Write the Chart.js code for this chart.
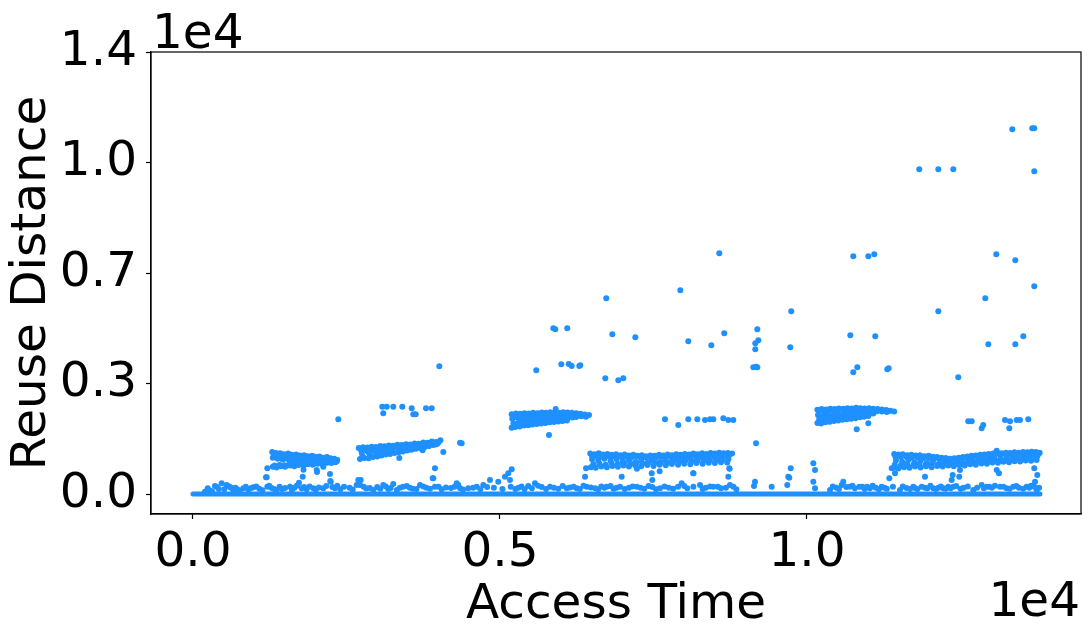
<!DOCTYPE html>
<html>
<head>
<meta charset="utf-8">
<script src="https://cdn.jsdelivr.net/npm/chart.js@4.4.1/dist/chart.umd.min.js"></script>
<style>
  html, body { margin: 0; padding: 0; background: #fff; }
</style>
</head>
<body>
<canvas id="c" width="1090" height="635"></canvas>
<script>
// ticks (values in raw units, labels as shown with the 1e4 offset)
const xTicks = [0, 5000, 10000];
const xTickLabels = ['0.0', '0.5', '1.0'];
const yTicks = [0, 3500, 7000, 10500, 14000];
const yTickLabels = ['0.0', '0.3', '0.7', '1.0', '1.4'];

// reuse distance 0 : the solid run along the bottom
const zeroRun = [[0, 0], [13795, 0]];

// small reuse distances just above zero
const lowNoise = [
  [195,73],[270,120],[358,253],[420,160],[467,339],[549,285],[620,200],[656,127],[720,150],[819,181],
  [900,140],[982,212],[1080,170],[1189,529],[1210,231],[1280,190],[1363,127],[1450,160],[1580,231],[1650,200],
  [1726,358],[1770,181],[1787,548],[1850,150],[1959,181],[2050,210],[2122,181],[2243,390],[2313,181],[2400,150],
  [2550,200],[2666,285],[2731,443],[2820,180],[2937,127],[3000,220],[3099,285],[3180,160],[3262,317],[3370,200],
  [3481,253],[3580,170],[3697,285],[3800,200],[3914,497],[3941,231],[4050,150],[4200,190],[4321,285],[4400,140],
  [4484,181],[4621,231],[4728,285],[4837,443],[4900,200],[4972,390],[5082,548],[5174,231],[5300,200],[5400,150],
  [5570,339],[5680,220],[5815,231],[5950,170],[6086,181],[6200,230],[6300,160],[6412,231],[6550,180],[6650,240],
  [6738,231],[6850,170],[6955,231],[7100,200],[7227,231],[7350,170],[7480,220],[7606,181],[7750,200],[7959,339],
  [8050,180],[8258,285],[8350,200],[8474,231],[8600,180],[8746,285],[8850,150],[9137,253],[9425,231],[9679,285],
  [10131,181],[10103,390],[10375,127],[10480,200],[10565,285],[10591,390],[10701,231],[10780,180],[10852,231],[10940,160],
  [11026,181],[11120,200],[11217,231],[11300,170],[11515,127],[11620,190],[11731,231],[11800,160],[11868,231],[11960,180],
  [12057,181],[12140,200],[12220,181],[12300,230],[12383,231],[12550,200],[12708,127],[12845,285],[12927,231],[13010,200],
  [13144,231],[13250,180],[13360,231],[13450,200],[13578,231],[13650,260],[13741,127],
  [240,180],[310,90],[390,220],[510,150],[590,240],[690,200],[760,110],[860,230],[940,180],[1030,240],
  [1130,120],[1240,260],[1320,160],[1410,230],[1500,190],[1610,130],[1690,260],[1810,220],[1900,240],[2000,140],
  [2170,250],[2270,220],[2350,260],[2460,230],[2600,140],[2780,230],[2880,190],[3050,170],[3140,240],[3220,190],
  [3320,130],[3420,230],[3530,200],[3640,160],[3750,240],[3860,170],[4000,230],[4120,210],[4260,230],[4350,180],
  [4560,200],[4680,150],[4790,220],[5040,160],[5250,160],[5350,240],[5460,250],[5520,180],[5620,260],[5750,160],
  [5880,200],[6020,250],[6140,210],[6250,180],[6360,260],[6480,210],[6600,150],[6700,200],[6800,250],[6900,200],
  [7030,160],[7160,240],[7290,200],[7420,250],[7540,150],[7680,240],[7820,170],[7900,230],[8000,250],[8150,230],
  [8300,160],[8420,240],[8550,230],[8680,200],[8800,230],[10420,240],[10520,160],[10640,220],[10740,260],[10900,230],
  [10980,230],[11070,260],[11170,150],[11260,200],[11400,230],[11560,240],[11680,160],[11770,180],[11920,200],[12010,260],
  [12100,160],[12180,240],[12260,170],[12340,180],[12430,250],[12500,170],[12620,240],[12770,200],[12880,180],[12970,230],
  [13060,260],[13200,230],[13300,170],[13410,250],[13520,170],[13620,200],[13700,230],[13780,200]
];
const lowScatter = [
  [1199,529],[1210,814],[2015,760],[2122,865],[2231,633],[2236,412],[2692,443],[2720,285],[3904,497],[3941,814],
  [4295,339],[5135,656],[5163,443],[5191,782],[6385,548],[6401,814],[6982,548],[7471,656],[7481,443],[8148,656],
  [8719,548],[8735,814],[9153,390],[9695,548],[9712,516],[9735,814],[10103,972],[10131,760],[11341,497],[11380,814],
  [11434,656],[11922,548],[12357,443],[12373,602],[12480,548],[12492,760],[13090,760],[13127,656],[13702,814],[13751,602],
  [13714,390]
];

// streaks around 1000 and 2000-2500
const bandA = [
  [1290,1330],[1350,1300],[1420,1290],[1480,1260],[1550,1280],[1610,1240],[1680,1250],[1740,1220],[1810,1230],[1870,1200],
  [1940,1210],[1990,1180],[2060,1190],[2120,1150],[2180,1170],[2240,1130],[2300,1120],[2350,1080],
  [1320,1230],[1400,1210],[1470,1190],[1560,1200],[1640,1160],[1720,1170],[1800,1130],[1880,1150],[1960,1120],[2040,1120],
  [2120,1090],[2200,1100],[2280,1070],[2340,1040],
  [1300,1150],[1380,1120],[1460,1090],[1540,1110],[1620,1060],[1700,1080],[1780,1040],[1860,1070],[1950,1030],[2030,1060],
  [2110,1010],[2190,1040],[2270,1010],
  [1330,900],[1410,920],[1490,910],[1570,950],[1660,930],[1740,960],[1830,950],[1910,980],[1990,990],[2070,1000],
  [2150,1020],[2230,1030],[2300,1050],
  [1300,860],[1360,840],[1430,880],[1500,860],[1580,900],[1650,880],[1720,920],[1800,900],[1870,940],[1950,930],
  [2030,960],[2100,950],[2180,990],[2250,980],[2320,1010],[1800,770],[2020,700]
];
const bandB = [
  [2700,1460],[2770,1480],[2840,1470],[2910,1500],[2980,1490],[3050,1520],[3120,1510],[3190,1540],[3260,1530],[3330,1560],
  [3400,1550],[3470,1580],[3540,1570],[3610,1600],[3680,1590],[3750,1630],[3820,1620],[3890,1660],[3960,1650],[4030,1700],
  [2740,1380],[2820,1400],[2900,1420],[3000,1440],[3100,1460],[3200,1480],[3300,1500],[3400,1510],[3500,1530],[3600,1550],
  [3700,1560],[3800,1590],[3900,1620],[4000,1640],
  [2760,1200],[2880,1240],[3000,1270],[3120,1310],[3240,1350],[3360,1380],[3480,1420],[3600,1450],[3720,1490],[3840,1530],
  [3950,1570],
  [2720,1110],[2790,1140],[2860,1130],[2930,1170],[3000,1190],[3070,1220],[3140,1250],[3210,1270],[3280,1300],[3350,1320],
  [3420,1350],[3490,1380],[3560,1400],[3630,1430],[3700,1460],[3770,1480],[3840,1520],[3910,1550],[3980,1590],
  [2750,1300],[2850,1330],[2950,1360],[3050,1390],[3150,1400],[3250,1430],[3350,1440],[3450,1470],[3550,1480],[3650,1500],
  [3750,1530],[3850,1560],[3950,1600],[3360,1140],[3740,1390]
];
const bandC = [
  [5190,2530],[5260,2550],[5330,2540],[5400,2560],[5470,2550],[5540,2570],[5610,2560],[5680,2580],[5750,2570],[5820,2590],
  [5890,2580],[5960,2570],[6030,2590],[6100,2580],[6170,2570],[6240,2560],[6310,2540],[6380,2520],[6450,2500],
  [5230,2490],[5310,2500],[5390,2490],[5470,2510],[5550,2500],[5630,2520],[5710,2510],[5790,2530],[5870,2520],[5950,2540],
  [6030,2530],[6110,2540],[6190,2520],[6270,2510],[6350,2490],
  [5200,2380],[5280,2420],[5360,2360],[5440,2400],[5520,2430],[5600,2380],[5680,2440],[5760,2400],[5840,2450],[5920,2410],
  [6000,2460],[6080,2430],[6160,2470],[6240,2440],[6320,2460],[6400,2450],
  [5220,2240],[5300,2260],[5380,2290],[5460,2300],[5540,2320],[5620,2340],[5700,2350],[5780,2370],[5860,2380],[5940,2390],
  [6020,2400],[6100,2400],[6180,2420],
  [5190,2100],[5250,2120],[5320,2140],[5390,2170],[5460,2180],[5530,2200],[5600,2220],[5670,2230],[5740,2250],[5810,2270],
  [5880,2280],[5950,2300],[6020,2310],[6090,2330]
];
const bandD = [
  [6470,1280],[6540,1260],[6610,1290],[6680,1250],[6750,1270],[6820,1240],[6890,1260],[6960,1230],[7030,1250],[7100,1220],
  [7170,1240],[7240,1210],[7310,1230],[7380,1200],[7450,1220],[7520,1210],[7590,1240],[7660,1220],[7730,1250],[7800,1230],
  [7870,1260],[7940,1240],[8010,1270],[8080,1250],[8150,1280],[8220,1260],[8290,1290],[8360,1270],[8430,1300],[8500,1280],
  [8570,1310],[8640,1290],[8710,1300],[8780,1280],
  [6500,1210],[6580,1200],[6660,1190],[6740,1200],[6820,1180],[6900,1190],[6980,1170],[7060,1180],[7140,1160],[7220,1170],
  [7300,1150],[7380,1160],[7460,1150],[7540,1160],[7620,1170],[7700,1170],[7780,1180],[7860,1190],[7940,1190],[8020,1200],
  [8100,1210],[8180,1220],[8260,1230],[8340,1230],[8420,1240],[8500,1240],[8580,1250],[8660,1250],[8740,1240],
  [6500,1100],[6600,1060],[6700,1120],[6800,1050],[6900,1100],[7000,1030],[7100,1080],[7200,1000],[7300,1060],[7400,990],
  [7500,1050],[7600,1010],[7700,1080],[7800,1030],[7900,1100],[8000,1060],[8100,1130],[8200,1090],[8300,1150],[8400,1110],
  [8500,1170],[8600,1140],[8700,1190],
  [6520,940],[6620,960],[6720,930],[6820,970],[6920,950],[7020,980],[7120,960],[7220,990],[7320,970],[7420,1000],
  [7520,980],[7620,1010],[7720,1000],[7820,1030],[7920,1020],[8020,1050],[8120,1040],[8220,1060],[8320,1060],[8420,1080],
  [8520,1080],[8620,1090],[8720,1100],
  [6480,850],[6560,830],[6650,870],[6740,850],[6830,890],[6920,860],[7010,900],[7100,870],[7200,910],[7300,880],
  [7400,920],[7500,890],[7600,930],[7700,910],[7800,950],[7900,930],[8000,960],[8100,940],[8200,980],[8300,960],
  [8400,990],[8500,980],[8600,1010],[8700,1000],[7230,800],[7600,720],[8150,660],[8740,800]
];
const bandE = [
  [10170,2670],[10240,2690],[10310,2680],[10380,2700],[10450,2690],[10520,2710],[10590,2700],[10660,2720],[10730,2710],[10800,2730],
  [10870,2720],[10940,2710],[11010,2720],[11080,2700],[11150,2690],[11220,2680],[11290,2660],[11360,2640],[11420,2610],
  [10200,2630],[10280,2600],[10360,2640],[10440,2620],[10520,2660],[10600,2640],[10680,2670],[10760,2650],[10840,2680],[10920,2660],
  [11000,2670],[11080,2650],[11160,2650],[11240,2640],[11320,2630],
  [10180,2500],[10260,2460],[10340,2520],[10420,2480],[10500,2540],[10580,2500],[10660,2560],[10740,2530],[10820,2580],[10900,2560],
  [10980,2600],[11060,2590],[11140,2620],[11220,2610],[11300,2600],
  [10200,2370],[10280,2380],[10360,2400],[10440,2420],[10520,2430],[10600,2440],[10680,2460],[10760,2480],[10840,2500],[10920,2520],
  [11000,2540],[11080,2550],
  [10170,2250],[10230,2230],[10300,2270],[10370,2290],[10440,2310],[10510,2330],[10580,2350],[10650,2370],[10720,2380],[10790,2400],
  [10860,2430],[10930,2450],[11000,2470]
];
const bandF = [
  [11420,1270],[11490,1250],[11560,1260],[11630,1230],[11700,1240],[11770,1220],[11840,1230],[11910,1200],[11980,1210],[12050,1180],
  [12120,1170],[12190,1150],[12260,1140],[12330,1120],[12400,1130],[12470,1150],[12540,1170],[12610,1190],[12680,1210],[12750,1220],
  [12820,1240],[12890,1250],[12960,1270],[13030,1280],[13100,1300],[13170,1290],[13240,1310],[13310,1300],[13380,1320],[13450,1310],
  [13520,1330],[13590,1320],[13660,1340],[13730,1330],[13790,1310],
  [11440,1190],[11530,1170],[11620,1180],[11710,1150],[11800,1160],[11890,1130],[11980,1140],[12070,1110],[12160,1100],[12250,1080],
  [12340,1070],[12430,1080],[12520,1100],[12610,1120],[12700,1140],[12790,1160],[12880,1180],[12970,1200],[13060,1220],[13150,1230],
  [13240,1250],[13330,1250],[13420,1260],[13510,1270],[13600,1280],[13690,1280],[13770,1270],
  [11450,1060],[11550,1020],[11650,1080],[11750,1000],[11850,1060],[11950,980],[12050,1030],[12150,960],[12250,1010],[12350,950],
  [12450,1000],[12550,970],[12650,1040],[12750,1010],[12850,1090],[12950,1060],[13050,1130],[13150,1100],[13250,1170],[13350,1140],
  [13450,1200],[13550,1170],[13650,1230],[13750,1200],
  [11430,930],[11530,910],[11630,950],[11730,920],[11830,960],[11930,930],[12030,950],[12130,930],[12230,960],[12330,940],
  [12430,970],[12530,960],[12630,990],[12730,980],[12830,1020],[12930,1020],[13030,1060],[13130,1050],[13230,1080],[13330,1080],
  [13430,1110],[13530,1110],[13630,1140],[13730,1150],
  [11410,830],[11490,810],[11580,850],[11670,830],[11760,870],[11850,840],[11940,880],[12030,850],[12120,890],[12210,870],
  [12300,900],[12390,880],[12480,920],[12570,900],[12660,940],[12750,930],[12840,970],[12930,960],[13020,1000],[13110,990],
  [13200,1020],[13290,1010],[13380,1040],[13470,1030],[13560,1060],[13650,1050],[13740,1080]
];

// isolated accesses
const midOutliers = [
  [2367,2366],[3083,2765],[3099,2556],[3155,2765],[3262,2765],[3409,2765],[3562,2714],[3588,2524],[3627,2524],[3795,2714],
  [3888,2714],[4077,1330],[4349,1625],[4376,1606],[5907,2692],[5798,1869],[7687,2366],[7904,2185],[8067,2366],[8214,2366],
  [8339,2344],[8420,2366],[8474,2366],[8637,2397],[8719,2344],[8800,2344],[9170,1606],[10810,2049],[10999,2239],[12627,2302],
  [12683,2302],[12845,2081],[12871,2185],[13225,2344],[13307,2302],[13295,2081],[13416,2344],[13469,2344],[13604,2366],[13090,1371]
];
const highOutliers = [
  [4012,4044],[5591,3918],[5868,5248],[5901,5216],[5999,4108],[6096,5248],[6119,4117],[6168,4054],[6292,4054],[6308,4076],
  [6715,3664],[6731,6198],[6829,5058],[6927,3601],[7008,3664],[7204,4963],[7937,6451],[8067,4836],[8442,4709],[8572,7623],
  [8653,5089],[9191,5216],[9158,4773],[9207,4868],[9158,4583],[9126,4013],[9170,4032],[9191,4013],[9728,4646],[9744,5786],
  [10706,5026],[10754,7528],[10999,7528],[11096,7591],[10754,3854],[10820,4013],[11112,4994],[11308,3949],[11331,3981],[12139,5786],
  [12464,3696],[12904,6198],[12953,4741],[13083,7591],[13393,7401],[13393,4741],[13523,4994],[13702,6578],[13344,11550],[13669,11582],
  [13702,11582],[13702,10220],[11829,10283],[12139,10283],[12383,10283]
];

const BLUE = '#1E90FF';
const FONT = { family: '"DejaVu Sans", sans-serif', size: 48.5 };
const toPts = arr => arr.map(([x, y]) => ({ x, y }));

const allPoints = [].concat(lowNoise, lowScatter, bandA, bandB, bandC, bandD, bandE, bandF, midOutliers, highOutliers);

// frame on all four sides plus the matplotlib style "1e4" offset texts
const framePlugin = {
  id: 'frame',
  afterDraw(chart) {
    const { ctx, chartArea: a } = chart;
    ctx.save();
    ctx.strokeStyle = '#000';
    ctx.lineWidth = 1.2;
    ctx.strokeRect(a.left, a.top, a.right - a.left, a.bottom - a.top);
    ctx.fillStyle = '#000';
    ctx.font = '48.5px "DejaVu Sans", sans-serif';
    ctx.textBaseline = 'alphabetic';
    ctx.textAlign = 'left';
    ctx.fillText('1e4', a.left + 1, 48);
    ctx.textAlign = 'right';
    ctx.fillText('1e4', a.right - 1, 616);
    ctx.restore();
  }
};

new Chart(document.getElementById('c'), {
  type: 'scatter',
  data: {
    datasets: [
      {
        data: toPts(zeroRun),
        showLine: true,
        borderColor: BLUE,
        borderWidth: 5,
        borderCapStyle: 'round',
        pointRadius: 0
      },
      {
        data: toPts(allPoints),
        backgroundColor: BLUE,
        borderWidth: 0,
        pointRadius: 3
      }
    ]
  },
  options: {
    responsive: false,
    animation: false,
    devicePixelRatio: 1,
    layout: { padding: { top: 52, right: 9, left: 0, bottom: 0 } },
    plugins: { legend: { display: false }, tooltip: { enabled: false } },
    scales: {
      x: {
        type: 'linear',
        min: -684,
        max: 14463,
        afterBuildTicks: s => { s.ticks = xTicks.map(v => ({ value: v })); },
        afterFit: s => { s.height = 121; },
        ticks: {
          callback: v => xTickLabels[xTicks.indexOf(v)],
          font: FONT,
          color: '#000',
          padding: 5,
          maxRotation: 0,
          autoSkip: false
        },
        grid: { drawOnChartArea: false, tickLength: 5, tickColor: '#000', tickWidth: 1.2 },
        border: { color: '#000', width: 1.2 },
        title: { display: true, text: 'Access Time', font: FONT, color: '#000', padding: { top: 6, bottom: 0 } }
      },
      y: {
        type: 'linear',
        min: -633,
        max: 14000,
        afterBuildTicks: s => { s.ticks = yTicks.map(v => ({ value: v })); },
        afterFit: s => { s.width = 151; },
        ticks: {
          callback: v => yTickLabels[yTicks.indexOf(v)],
          font: FONT,
          color: '#000',
          padding: 9,
          autoSkip: false
        },
        grid: { drawOnChartArea: false, tickLength: 5, tickColor: '#000', tickWidth: 1.2 },
        border: { color: '#000', width: 1.2 },
        title: { display: true, text: 'Reuse Distance', font: FONT, color: '#000', padding: { top: 3, bottom: 0 } }
      }
    }
  },
  plugins: [framePlugin]
});
</script>
</body>
</html>
